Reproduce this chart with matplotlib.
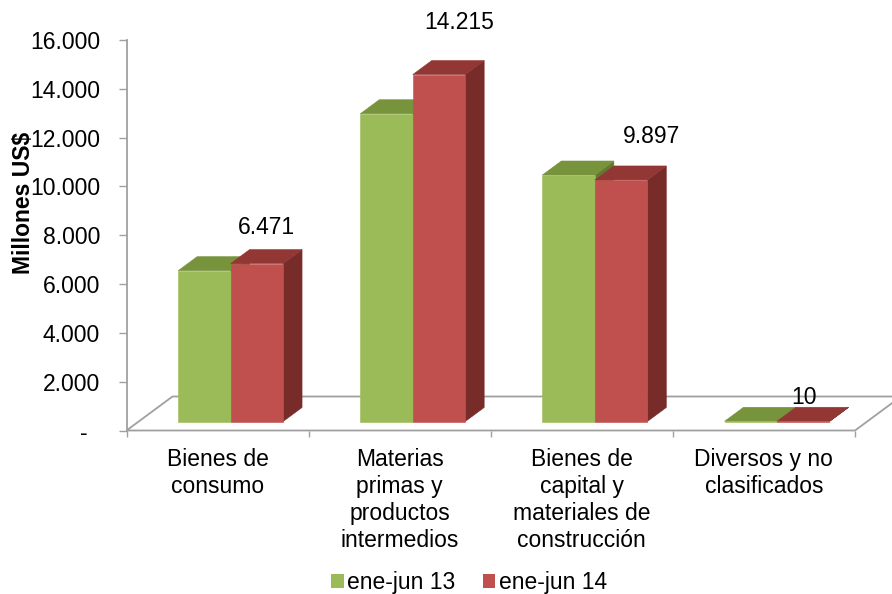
import matplotlib
matplotlib.use('Agg')
import matplotlib.pyplot as plt
from matplotlib.patches import Polygon, Patch

plt.rcParams['font.family'] = ['Liberation Sans', 'DejaVu Sans']

# datos (millones US$)
categorias = ['Bienes de\nconsumo', 'Materias\nprimas y\nproductos\nintermedios',
              'Bienes de\ncapital y\nmateriales de\nconstrucción', 'Diversos y no\nclasificados']
series = ['ene-jun 13', 'ene-jun 14']
ene_jun_13 = [6180, 12610, 10100, 9]
ene_jun_14 = [6471, 14215, 9897, 10]
valores = [ene_jun_13, ene_jun_14]

W, H = 892, 594
fig = plt.figure(figsize=(W / 100, H / 100), dpi=100)
# front plane of the 3D floor, in pixels
x0p, x1p, y0p, y1p = 126.5, 855, 430.5, 40
ax = fig.add_axes([x0p / W, 1 - y0p / H, (x1p - x0p) / W, (y0p - y1p) / H])
ax.set_xlim(0, 4)
ax.set_ylim(0, 16000)

px_x = 4 / (x1p - x0p)
px_y = 16000 / (y0p - y1p)
DX, DY = 46 * px_x, 34 * px_y  # floor depth (oblique)


def P(x, v, t):
    return (x + t * DX, v + t * DY)


gris = '#A0A0A0'
fs = 16.5

# piso
piso = Polygon([P(0, 0, 0), P(4, 0, 0), P(4, 0, 1), P(0, 0, 1)], closed=True,
               facecolor='white', edgecolor=gris, lw=1.3, clip_on=False, zorder=1)
ax.add_patch(piso)

# barras 3D
c_front = ['#9BBB59', '#C0504D']
c_top = ['#77933C', '#933735']
c_side = ['#62792F', '#772C2A']
offs = [0.217, 0.505]
w = 0.288
t0, t1 = 9 / 34, 23 / 34
for i in range(len(categorias)):
    for s in range(2):
        v = valores[s][i]
        xa = i + offs[s]
        xb = xa + w
        side = [P(xb, 0, t0), P(xb, 0, t1), P(xb, v, t1), P(xb, v, t0)]
        top = [P(xa, v, t0), P(xb, v, t0), P(xb, v, t1), P(xa, v, t1)]
        front = [P(xa, 0, t0), P(xb, 0, t0), P(xb, v, t0), P(xa, v, t0)]
        for pts, col in [(side, c_side[s]), (top, c_top[s]), (front, c_front[s])]:
            ax.add_patch(Polygon(pts, closed=True, facecolor=col, edgecolor=col,
                                 lw=0.4, clip_on=False, zorder=3))

# etiquetas de datos (solo ene-jun 14)
nudge = [10, 20, 30, 1]
for i, v in enumerate(ene_jun_14):
    xl = i + offs[1] + w / 2 + t0 * DX + nudge[i] * px_x
    yl = t0 * DY + v * 1.08 + 980
    ax.text(xl, yl, f'{v:,}'.replace(',', '.'), ha='center', va='center',
            fontsize=fs, color='black', zorder=5, clip_on=False)

# eje Y
ticks = list(range(0, 16001, 2000))
ax.set_yticks(ticks)
ax.set_yticklabels(['-  '] + [f'{t:,}'.replace(',', '.') for t in ticks[1:]])
ax.tick_params(axis='y', direction='out', length=6, width=1, color=gris,
               labelsize=fs, pad=13)

# eje X
ax.set_xticks([i + 0.5 for i in range(len(categorias))])
ax.set_xticklabels(categorias)
ax.set_xticks(range(len(categorias) + 1), minor=True)
ax.tick_params(axis='x', which='major', length=0, labelsize=fs, pad=12.5)
ax.tick_params(axis='x', which='minor', direction='out', length=4.5, width=1, color=gris)
for lab in ax.get_xticklabels():
    lab.set_linespacing(1.22)

for k in ['top', 'right', 'bottom']:
    ax.spines[k].set_visible(False)
ax.spines['left'].set_color(gris)
ax.spines['left'].set_linewidth(1.3)
ax.patch.set_alpha(0)

fig.text(24 / W, 1 - 203 / H, 'Millones US$', rotation=90, ha='center', va='center',
         fontsize=fs, fontweight='bold')

handles = [Patch(facecolor=c, edgecolor='none') for c in c_front]
fig.legend(handles, series, loc='center', bbox_to_anchor=(469 / W, 1 - 583 / H),
           ncol=2, frameon=False, fontsize=fs, handlelength=0.55, handleheight=0.55,
           handletextpad=0.15, columnspacing=1.2, borderpad=0)

fig.savefig('out.png', dpi=100)
